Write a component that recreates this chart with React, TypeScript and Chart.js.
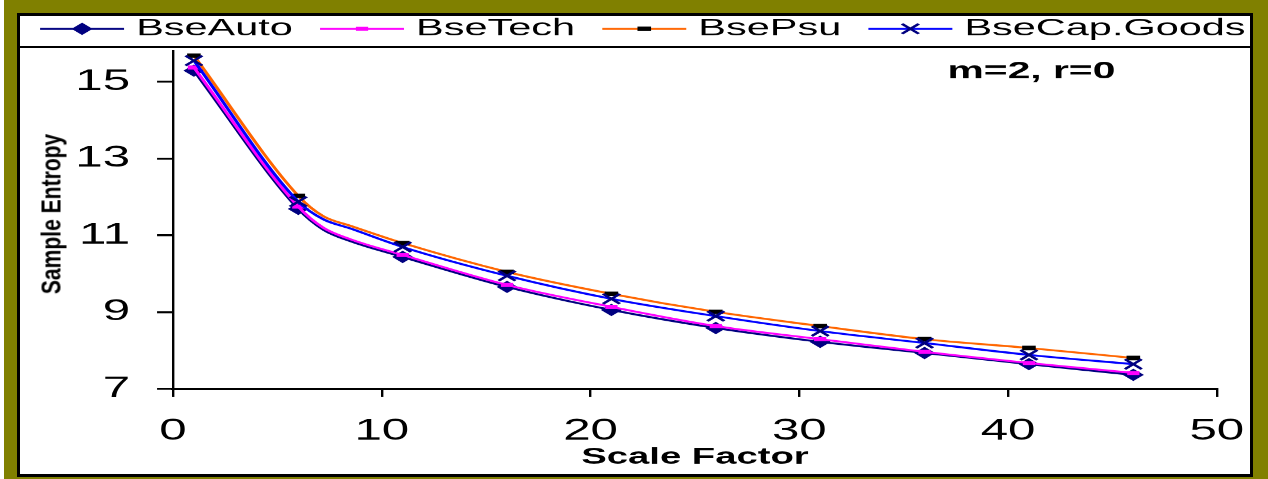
import React, { useEffect, useRef } from 'react';
import { Chart, registerables } from 'chart.js';

Chart.register(...registerables);

// ---- data ----
const seriesNames = ['BseAuto', 'BseTech', 'BsePsu', 'BseCap.Goods'];
const markerScales = [1, 6, 11, 16, 21, 26, 31, 36, 41, 46];
const bendScales = [7.2, 8.5];
const autoMarkers = [15.29, 11.69, 10.44, 9.66, 9.06, 8.59, 8.23, 7.94, 7.65, 7.37];
const autoBend = [11.15, 10.85];
const techMarkers = [15.37, 11.75, 10.49, 9.71, 9.14, 8.64, 8.3, 7.97, 7.68, 7.42];
const techBend = [11.2, 10.9];
const psuMarkers = [15.68, 12.03, 10.8, 10.05, 9.48, 9.01, 8.64, 8.3, 8.07, 7.81];
const psuBend = [11.5, 11.25];
const capMarkers = [15.55, 11.88, 10.7, 9.95, 9.35, 8.9, 8.51, 8.2, 7.89, 7.65];
const capBend = [11.42, 11.18];
const xTicks = [0, 10, 20, 30, 40, 50];
const yTicks = [7, 9, 11, 13, 15];
const noteText = 'm=2, r=0';
const xTitle = 'Scale Factor';
const yTitle = 'Sample Entropy';

// ---- styling ----
const CANVAS_W = 746;
const CANVAS_H = 479;
const STRETCH = 1268 / CANVAS_W;
const FONT = '"Liberation Sans", Arial, Helvetica, sans-serif';

type Pt = { x: number; y: number; m: boolean };
function buildPoints(markers: number[], bend: number[]): Pt[] {
  const pts: Pt[] = markerScales.map((x, i) => ({ x, y: markers[i], m: true }));
  bendScales.forEach((x, i) => pts.push({ x, y: bend[i], m: false }));
  pts.sort((a, b) => a.x - b.x);
  return pts;
}

const styles = [
  { line: '#000080', marker: 'rectRot', r: 5.5, fill: '#000080', stroke: '#000080', bw: 1 },
  { line: '#FF00FF', marker: 'line', r: 3.6, fill: '#FF00FF', stroke: '#FF00FF', bw: 4 },
  { line: '#FF6600', marker: 'line', r: 4, fill: '#000000', stroke: '#000000', bw: 4.5 },
  { line: '#0000FF', marker: 'crossRot', r: 7, fill: '#000080', stroke: '#000080', bw: 2 },
];
const seriesValues = [
  buildPoints(autoMarkers, autoBend),
  buildPoints(techMarkers, techBend),
  buildPoints(psuMarkers, psuBend),
  buildPoints(capMarkers, capBend),
];

function drawMarker(ctx: CanvasRenderingContext2D, st: any, x: number, y: number) {
  ctx.save();
  ctx.fillStyle = st.fill;
  ctx.strokeStyle = st.stroke;
  ctx.lineWidth = st.bw;
  ctx.beginPath();
  const r = st.r;
  if (st.marker === 'rectRot') {
    ctx.moveTo(x, y - r);
    ctx.lineTo(x + r, y);
    ctx.lineTo(x, y + r);
    ctx.lineTo(x - r, y);
    ctx.closePath();
    ctx.fill();
    ctx.stroke();
  } else if (st.marker === 'line') {
    ctx.moveTo(x - r, y);
    ctx.lineTo(x + r, y);
    ctx.stroke();
  } else {
    const d = r * Math.SQRT1_2;
    ctx.moveTo(x - d, y - d);
    ctx.lineTo(x + d, y + d);
    ctx.moveTo(x - d, y + d);
    ctx.lineTo(x + d, y - d);
    ctx.stroke();
  }
  ctx.restore();
}

const LEGEND_LINE = 49.4;
// legend box is widened symmetrically about its centre so the single row never wraps
const LEGEND_CENTRE2 = 756.4;
const LEGEND_RIGHT = 800;

const legendSamplePlugin = {
  id: 'legendSamples',
  afterLayout(chart: any) {
    const lg = chart.legend;
    if (lg) {
      lg.right = LEGEND_RIGHT;
      lg.left = LEGEND_CENTRE2 - LEGEND_RIGHT;
    }
  },
  afterDraw(chart: any) {
    const lg = chart.legend;
    const ctx: CanvasRenderingContext2D = chart.ctx;
    if (lg && lg.legendHitBoxes) {
      lg.legendHitBoxes.forEach((hb: any, i: number) => {
        const st = styles[i];
        const cy = hb.top + hb.height / 2;
        ctx.save();
        ctx.strokeStyle = st.line;
        ctx.lineWidth = 2;
        ctx.beginPath();
        ctx.moveTo(hb.left, cy);
        ctx.lineTo(hb.left + LEGEND_LINE, cy);
        ctx.stroke();
        ctx.restore();
        drawMarker(ctx, st, hb.left + LEGEND_LINE / 2, cy);
      });
    }
    const xs = chart.scales.x;
    const ys = chart.scales.y;
    ctx.save();
    ctx.font = `bold 24px ${FONT}`;
    ctx.fillStyle = '#000';
    ctx.textAlign = 'left';
    ctx.textBaseline = 'middle';
    ctx.fillText(noteText, xs.getPixelForValue(37.1), ys.getPixelForValue(15.27));
    ctx.restore();
  },
};

export default function App() {
  const ref = useRef<HTMLCanvasElement>(null);
  useEffect(() => {
    if (!ref.current) return;
    const chart = new Chart(ref.current, {
      type: 'line',
      data: {
        datasets: seriesValues.map((pts, i) => ({
          label: seriesNames[i],
          data: pts,
          borderColor: styles[i].line,
          backgroundColor: styles[i].fill,
          borderWidth: 2,
          fill: false,
          cubicInterpolationMode: 'monotone',
          pointStyle: styles[i].marker,
          pointRadius: (c: any) => (c.raw && c.raw.m ? styles[i].r : 0),
          pointHoverRadius: 0,
          pointBackgroundColor: styles[i].fill,
          pointBorderColor: styles[i].stroke,
          pointBorderWidth: styles[i].bw,
          order: 4 - i,
        })) as any,
      },
      options: {
        animation: false,
        responsive: true,
        maintainAspectRatio: false,
        devicePixelRatio: STRETCH,
        events: [],
        layout: { padding: { left: 0, right: 0, top: 0.6, bottom: 0 } },
        plugins: {
          tooltip: { enabled: false },
          legend: {
            display: true,
            position: 'top',
            align: 'center',
            labels: {
              usePointStyle: true,
              pointStyleWidth: 44.3,
              padding: 16,
              color: '#000',
              font: { family: FONT, size: 24.4 },
              generateLabels: () =>
                seriesNames.map((name, i) => ({
                  text: name,
                  fillStyle: 'rgba(0,0,0,0)',
                  strokeStyle: 'rgba(0,0,0,0)',
                  lineWidth: 0,
                  pointStyle: 'line',
                  datasetIndex: i,
                  hidden: false,
                  fontColor: '#000',
                })) as any,
            },
          },
        },
        scales: {
          x: {
            type: 'linear',
            min: 0,
            max: 50,
            afterBuildTicks: (ax: any) => {
              ax.ticks = xTicks.map((v) => ({ value: v }));
            },
            afterFit: (ax: any) => {
              ax.height = 90;
              ax.paddingRight = 30.1;
            },
            ticks: {
              color: '#000',
              font: { family: FONT, size: 29 },
              padding: 16.8,
              maxRotation: 0,
            },
            grid: { drawOnChartArea: false, drawTicks: true, tickLength: 8, color: '#000', lineWidth: 1.4 },
            border: { color: '#000', width: 2.3 },
            title: {
              display: true,
              text: xTitle,
              color: '#000',
              font: { family: FONT, size: 22.5, weight: 'bold' },
              padding: { top: 0, bottom: 8 },
            },
          },
          y: {
            type: 'linear',
            min: 7,
            max: 15.8,
            afterBuildTicks: (ax: any) => {
              ax.ticks = yTicks.map((v) => ({ value: v }));
            },
            afterFit: (ax: any) => {
              ax.width = 101.8;
            },
            ticks: {
              color: '#000',
              font: { family: FONT, size: 29 },
              padding: 15.8,
            },
            grid: { drawOnChartArea: false, drawTicks: true, tickLength: 9.4, color: '#000', lineWidth: 2 },
            border: { color: '#000', width: 1.4 },
          },
        },
      } as any,
      plugins: [legendSamplePlugin],
    });
    return () => chart.destroy();
  }, []);

  return (
    <div
      style={{
        position: 'fixed',
        left: 0,
        top: 0,
        width: 1268,
        height: 479,
        background: '#808000',
        overflow: 'hidden',
      }}
    >
      <div style={{ position: 'absolute', left: 0, top: 0, width: 4, height: 479, background: '#fff' }} />
      <div
        style={{
          position: 'absolute',
          left: 17,
          top: 13,
          width: 1236,
          height: 464,
          boxSizing: 'border-box',
          border: '3px solid #000',
          background: '#fff',
        }}
      />
      <div style={{ position: 'absolute', left: 17, top: 46, width: 1236, height: 2, background: '#000' }} />
      <div
        style={{
          position: 'absolute',
          left: 0,
          top: 0,
          width: CANVAS_W,
          height: CANVAS_H,
          transform: `scaleX(${STRETCH})`,
          transformOrigin: '0 0',
        }}
      >
        <canvas ref={ref} />
      </div>
      <div
        style={{
          position: 'absolute',
          left: 51.5,
          top: 214,
          transform: 'translate(-50%, -50%) rotate(-90deg) scaleX(0.78)',
          whiteSpace: 'nowrap',
          fontFamily: FONT,
          fontWeight: 'bold',
          fontSize: 27,
          color: '#000',
          lineHeight: 1,
        }}
      >
        {yTitle}
      </div>
    </div>
  );
}
